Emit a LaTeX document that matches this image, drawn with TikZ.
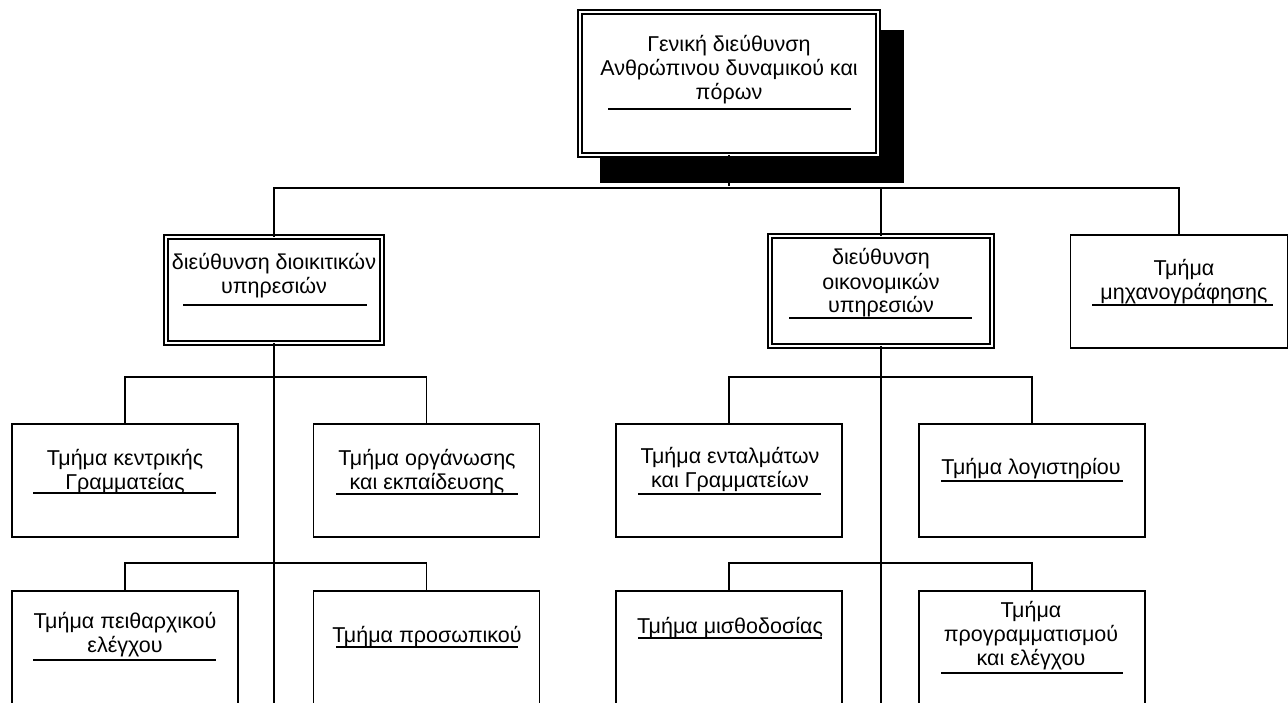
\documentclass[tikz,border=0pt]{standalone}
\usepackage{fontspec}
\setmainfont{Liberation Sans}
\newcommand\mystrut{\rule{0pt}{17pt}}
\begin{document}
\begin{tikzpicture}[x=1pt,y=-1pt,
  every node/.style={inner sep=0pt,outer sep=0pt},
  box/.style={draw,line width=1.5pt,fill=white,minimum width=226pt,minimum height=113pt},
  dbox/.style={box,double,double distance=2.6pt,line width=1.3pt},
  lbl/.style={anchor=north,align=center,font=\fontsize{21.5}{24}\selectfont},
  conn/.style={line width=1.5pt},
  trunk/.style={line width=2.3pt},
  uline/.style={line width=1.7pt}]
\useasboundingbox (0,0) rectangle (1288,703);
\clip (0,0) rectangle (1288,703);
% shadow of the top box
\fill[black] (600,30) rectangle (904,183);
% boxes
\node[dbox,minimum width=298pt,minimum height=143pt] (top) at (729,83.5) {};
\node[dbox,minimum width=216pt,minimum height=106pt] (da) at (274,290) {};
\node[dbox,minimum width=222pt,minimum height=110pt] (db) at (881,291) {};
\node[box,minimum width=217pt,minimum height=113pt] (mx) at (1179,291.5) {};
\node[box] (a1) at (125,480.5) {};
\node[box] (a2) at (426.5,480.5) {};
\node[box] (b1) at (729,480.5) {};
\node[box] (b2) at (1032,480.5) {};
\node[box,minimum height=140pt] (a3) at (125,661) {};
\node[box,minimum height=140pt] (a4) at (426.5,661) {};
\node[box,minimum height=140pt] (b3) at (729,661) {};
\node[box,minimum height=140pt] (b4) at (1032,661) {};
% connectors
\coordinate (endA) at (274,710);
\coordinate (endB) at (881,710);
\draw[trunk] (top.south) -- ++(0,31);
\draw[conn] (da.north) -- ++(0,-49) -| (mx.north);
\draw[conn] (db.north) -- ++(0,-49);
\draw[trunk] (da.south) -- (endA);
\draw[trunk] (db.south) -- (endB);
\draw[conn] (a1.north) -- ++(0,-47) -| (a2.north);
\draw[conn] (b1.north) -- ++(0,-47) -| (b2.north);
\draw[conn] (a3.north) -- ++(0,-28) -| (a4.north);
\draw[conn] (b3.north) -- ++(0,-28) -| (b4.north);
% texts
\node[lbl] (ttop) at (729,35) {\mystrut Γενική διεύθυνση\\Ανθρώπινου δυναμικού και\\πόρων};
\node[lbl] (tda) at (274,253) {\mystrut διεύθυνση διοικιτικών\\υπηρεσιών};
\node[lbl] (tdb) at (881,248) {\mystrut διεύθυνση\\οικονομικών\\υπηρεσιών};
\node[lbl] (tmx) at (1184,259) {\mystrut Τμήμα\\μηχανογράφησης};
\node[lbl] (ta1) at (125,448) {\mystrut Τμήμα κεντρικής\\Γραμματείας};
\node[lbl] (ta2) at (427,448) {\mystrut Τμήμα οργάνωσης\\και εκπαίδευσης};
\node[lbl] (tb1) at (730,446) {\mystrut Τμήμα ενταλμάτων\\και Γραμματείων};
\node[lbl] (tb2) at (1031,457) {\mystrut Τμήμα λογιστηρίου};
\node[lbl] (ta3) at (125,611) {\mystrut Τμήμα πειθαρχικού\\ελέγχου};
\node[lbl] (ta4) at (427,625) {\mystrut Τμήμα προσωπικού};
\node[lbl] (tb3) at (730,616) {\mystrut Τμήμα μισθοδοσίας};
\node[lbl] (tb4) at (1031,600) {\mystrut Τμήμα\\προγραμματισμού\\και ελέγχου};
% underlines
\draw[uline] (608,109) -- (851,109);
\draw[uline] (183,305) -- (367,305);
\draw[uline] (789,318) -- (972,318);
\draw[uline] (1092,305) -- (1273,305);
\draw[uline] (33,493) -- (216,493);
\draw[uline] (336,494) -- (518,494);
\draw[uline] (638,494) -- (821,494);
\draw[uline] (941,481) -- (1123,481);
\draw[uline] (33,660) -- (216,660);
\draw[uline] (336,647) -- (518,647);
\draw[uline] (638,638) -- (822,638);
\draw[uline] (941,673) -- (1123,673);
\end{tikzpicture}
\end{document}
